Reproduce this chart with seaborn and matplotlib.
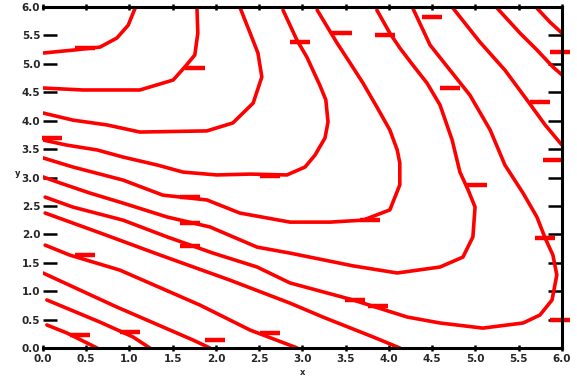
import matplotlib
matplotlib.use("Agg")
import matplotlib.pyplot as plt
import seaborn as sns
import pandas as pd

sns.set_theme(style="white")
plt.rcParams["font.family"] = ["DejaVu Sans"]

# Contour lines (x, y pairs), lowest level at the bottom-left
c1_x = [0.00, 0.74, 1.32, 1.71, 1.97, 2.13]
c1_y = [10.38, 10.49, 10.59, 10.91, 11.36, 11.96]

c2_x = [0.00, 0.92, 2.24, 3.01, 3.28, 3.51, 3.58, 3.56]
c2_y = [9.15, 9.08, 9.08, 9.43, 9.89, 10.31, 11.08, 11.96]

c3_x = [0.00, 0.69, 1.48, 2.24, 3.79, 4.39, 4.86, 5.06, 4.97, 4.79, 4.55]
c3_y = [8.27, 8.02, 7.85, 7.60, 7.64, 7.92, 8.62, 9.54, 10.38, 11.08, 12.00]

c4_x = [0.00, 0.55, 1.25, 1.85, 2.64, 3.24, 4.02, 4.79, 5.64, 6.06, 6.29,
        6.52, 6.59, 6.54, 6.40, 6.10, 5.87, 5.55]
c4_y = [7.32, 7.14, 6.97, 6.72, 6.44, 6.19, 6.09, 6.12, 6.09, 6.37, 6.79,
        7.39, 7.95, 8.73, 9.25, 10.24, 10.84, 11.89]

c5_x = [0.00, 0.69, 1.85, 2.77, 3.79, 4.55, 5.71, 6.64, 7.40, 8.02, 8.25,
        8.25, 8.19, 8.02, 7.72, 7.40, 7.10, 6.80, 6.34]
c5_y = [6.69, 6.37, 5.91, 5.38, 5.21, 4.75, 4.43, 4.43, 4.50, 4.86, 5.74,
        6.51, 6.97, 7.67, 8.48, 9.32, 10.03, 10.73, 11.89]

c6_x = [0.00, 0.39, 1.09, 1.85, 2.87, 3.86, 4.95, 5.71, 7.17, 8.19, 9.18,
        9.71, 9.94, 9.99, 9.83, 9.64, 9.46, 9.18, 8.88, 8.55, 8.25, 8.02, 7.72]
c6_y = [6.02, 5.81, 5.45, 5.10, 4.61, 4.26, 3.55, 3.34, 2.89, 2.64, 2.85,
        3.20, 3.91, 4.96, 5.56, 6.19, 7.32, 8.55, 9.32, 9.96, 10.56, 11.08, 11.89]

c7_x = [0.05, 0.69, 1.85, 2.87, 3.93, 4.95, 5.71, 7.17, 8.42, 9.18, 10.17,
        11.10, 11.49, 11.77, 11.88, 11.79, 11.61, 11.42, 11.10, 10.68, 10.34,
        9.87, 9.41, 8.95, 8.55]
c7_y = [5.31, 4.96, 4.50, 3.91, 3.34, 2.85, 2.29, 1.69, 1.09, 0.88, 0.70,
        0.88, 1.16, 1.69, 2.57, 3.27, 3.87, 4.61, 5.45, 6.44, 7.67,
        8.90, 9.78, 10.66, 11.96]

c8_x = [0.05, 1.32, 2.71, 4.32, 5.71, 6.47, 7.63, 8.25]
c8_y = [4.75, 4.05, 3.27, 2.39, 1.58, 1.09, 0.39, 0.00]

c9_x = [0.05, 0.62, 1.78, 3.63, 4.79, 5.88]
c9_y = [3.62, 3.27, 2.74, 1.51, 0.63, 0.00]

c10_x = [0.00, 1.71, 3.47, 3.86]
c10_y = [2.64, 1.44, 0.28, 0.00]

c11_x = [0.09, 1.32, 2.08, 2.47]
c11_y = [1.69, 0.91, 0.39, 0.00]

c12_x = [0.09, 0.55, 1.25]
c12_y = [0.81, 0.53, 0.00]

# Upper-right branches of the higher levels
u8_x = [9.48, 10.10, 10.68, 11.19, 11.61, 12.00]
u8_y = [11.96, 10.77, 9.78, 8.73, 7.85, 7.14]

u9_x = [10.50, 11.03, 11.42, 11.79, 12.00]
u9_y = [11.96, 11.08, 10.49, 9.89, 9.61]

u10_x = [11.42, 11.72, 12.00]
u10_y = [11.96, 11.47, 11.08]

# Inline level-label marks along the lines
label_x = [0.97, 3.51, 0.21, 5.94, 6.91, 7.91, 8.99, 9.41, 11.49, 11.79,
           11.95, 3.40, 3.40, 3.40, 0.97, 7.56, 10.03, 11.61, 7.21, 11.95,
           5.25, 3.98, 7.75, 2.01, 0.86, 5.25]
label_y = [10.56, 9.85, 7.39, 10.77, 11.08, 11.01, 11.65, 9.15, 8.66, 6.61,
           10.42, 5.31, 4.40, 3.59, 3.27, 4.50, 5.74, 3.87, 1.69, 0.99,
           0.53, 0.28, 1.48, 0.56, 0.46, 6.05]

x_ticks = list(range(13))
y_ticks = list(range(13))
x_tick_labels = ["0.0", "0.5", "1.0", "1.5", "2.0", "2.5", "3.0",
                 "3.5", "4.0", "4.5", "5.0", "5.5", "6.0"]
y_tick_labels = ["0.0", "0.5", "1.0", "1.5", "2.0", "2.5", "3.0",
                 "3.5", "4.0", "4.5", "5.0", "5.5", "6.0"]

curves = {
    "c1": (c1_x, c1_y), "c2": (c2_x, c2_y), "c3": (c3_x, c3_y),
    "c4": (c4_x, c4_y), "c5": (c5_x, c5_y), "c6": (c6_x, c6_y),
    "c7": (c7_x, c7_y), "c8": (c8_x, c8_y), "c9": (c9_x, c9_y),
    "c10": (c10_x, c10_y), "c11": (c11_x, c11_y), "c12": (c12_x, c12_y),
    "u8": (u8_x, u8_y), "u9": (u9_x, u9_y), "u10": (u10_x, u10_y),
}
rows = []
for name, (xs, ys) in curves.items():
    for i, (xv, yv) in enumerate(zip(xs, ys)):
        rows.append({"curve": name, "order": i, "x": xv, "y": yv})
lines_df = pd.DataFrame(rows)
labels_df = pd.DataFrame({"x": label_x, "y": label_y})

fig = plt.figure(figsize=(5.77, 3.85), dpi=100)
ax = fig.add_axes([0.0745, 0.0961, 0.8995, 0.8857])

sns.lineplot(data=lines_df, x="x", y="y", units="curve", estimator=None,
             sort=False, color="#ff0000", linewidth=2.6, ax=ax, legend=False)
sns.scatterplot(data=labels_df, x="x", y="y", marker="_", s=200,
                color="#ff0000", linewidth=3.2, ax=ax, legend=False, clip_on=False)

ax.set_xlim(0, 12)
ax.set_ylim(0, 12)
ax.set_xticks(x_ticks)
ax.set_yticks(y_ticks)
ax.set_xticklabels(x_tick_labels, fontsize=7.5, fontweight="bold")
ax.set_yticklabels(y_tick_labels, fontsize=7.5, fontweight="bold")
ax.tick_params(axis="both", which="both", direction="inout", length=5,
               width=1.8, color="black", top=True, right=True,
               bottom=True, left=True, pad=2)
ax.tick_params(axis="y", direction="in", length=10)

for side in ["top", "right", "bottom"]:
    ax.spines[side].set_visible(True)
    ax.spines[side].set_color("black")
    ax.spines[side].set_linewidth(2.2)
ax.spines["left"].set_visible(False)

ax.set_xlabel("x", fontsize=6, fontweight="bold", labelpad=3)
ax.set_ylabel("y", fontsize=6, fontweight="bold", labelpad=3, rotation=0)
ax.set_facecolor("white")
fig.patch.set_facecolor("white")

fig.savefig("out.png", dpi=100)
